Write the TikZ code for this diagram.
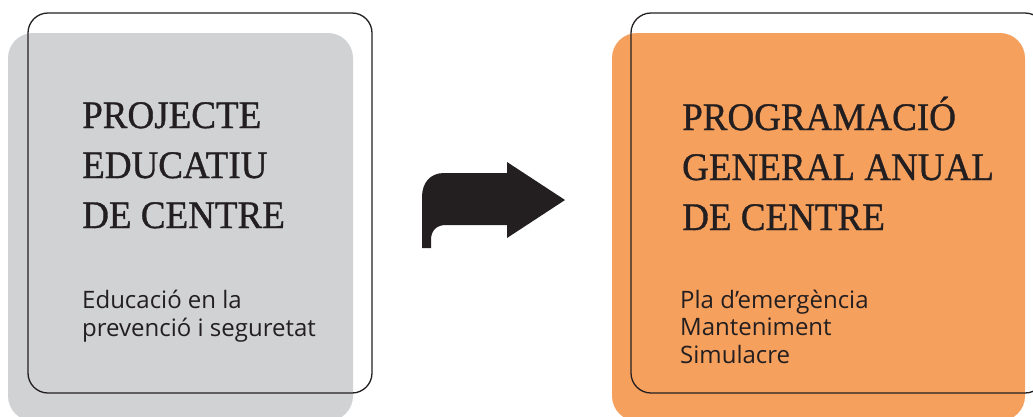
\documentclass[tikz,border=0pt]{standalone}
\usepackage{fontspec}
\setmainfont{Liberation Serif}
\newfontfamily\titlefont[FakeStretch=0.95,FakeBold=0.9]{Liberation Serif}
\newfontfamily\bodyfont{Open Sans}
\usetikzlibrary{calc}
\definecolor{boxgray}{HTML}{D1D2D4}
\definecolor{boxorange}{HTML}{F6A05E}
\definecolor{inkdark}{HTML}{231F20}
\tikzset{
  boxline/.style={draw=inkdark, line width=1.3pt, rounded corners=20pt},
  boxfill/.style={rounded corners=25pt},
  titletext/.style={anchor=base west, inner sep=0pt, align=left, text=inkdark,
    font=\titlefont\fontsize{39}{50}\selectfont},
  bodytext/.style={anchor=base west, inner sep=0pt, align=left, text=inkdark,
    font=\bodyfont\fontsize{24}{27.5}\selectfont},
}

\begin{document}
\begin{tikzpicture}[x=1pt,y=-1pt]
  \useasboundingbox (0,0) rectangle (1033,416);
  \clip (0,0) rectangle (1033,416);

  % Left box
  \fill[boxgray, boxfill] (8,33) rectangle (353,421);
  \draw[boxline] (28,13) rectangle (372,393);

  % Right box
  \fill[boxorange, boxfill] (612,33) rectangle (1025,421);
  \draw[boxline] (631,13) rectangle (1045,393);

  % Arrow
  \fill[inkdark] (422,248) -- (422,197) .. controls (422,183) and (430,173) .. (444,173)
    -- (507,173) -- (507,162) -- (565,200) -- (507,238) -- (507,225) -- (446,225)
    .. controls (436,225) and (431,231) .. (431,240) -- (431,248) -- cycle;

  % Labels (anchored at the baseline of the last line)
  \node[titletext] (projtitle) at (82,228) {PROJECTE\\EDUCATIU\\DE CENTRE};
  \node[bodytext] (projbody) at (82,336) {Educació en la\\prevenció i seguretat};
  \node[titletext] (progtitle) at (682,230) {PROGRAMACIÓ\\GENERAL ANUAL\\DE CENTRE};
  \node[bodytext] (progbody) at (680,363) {Pla d’emergència\\Manteniment\\Simulacre};

\end{tikzpicture}
\end{document}
